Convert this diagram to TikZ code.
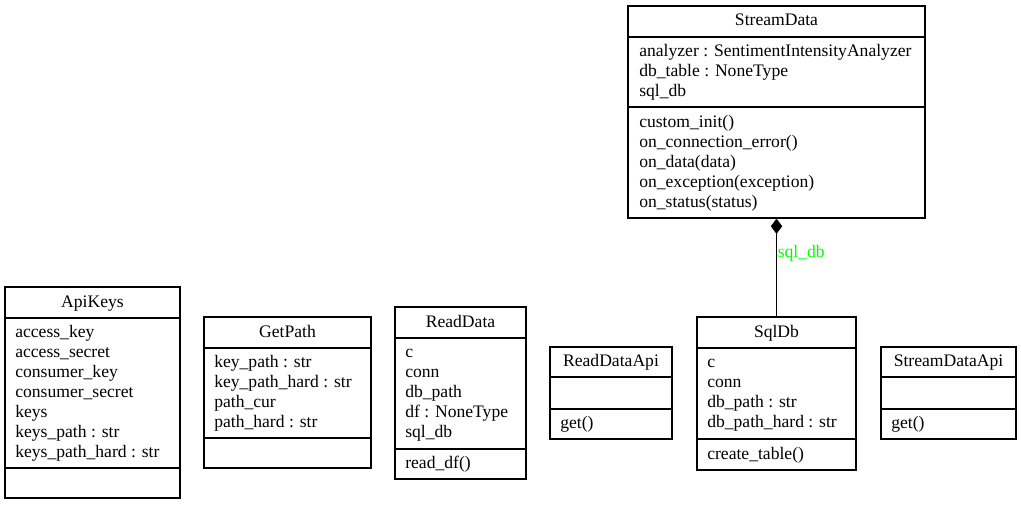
\documentclass[tikz,border=0pt]{standalone}
\usepackage{fontspec}
\setmainfont{Liberation Serif}
\usetikzlibrary{fit,arrows.meta}
\definecolor{lblgreen}{RGB}{0,255,0}
\tikzset{
  umlbox/.style={draw=black, line width=0.9pt, inner sep=0pt, fill=none},
  divider/.style={draw=black, line width=0.9pt},
  ttl/.style={inner sep=0pt, anchor=base, font=\fontsize{13.2pt}{15pt}\selectfont},
  txt/.style={inner sep=0pt, anchor=base west, font=\fontsize{13.2pt}{15pt}\selectfont},
  assoc/.style={draw=black, line width=0.9pt},
  lbl/.style={inner sep=0pt, anchor=base west, text=lblgreen, font=\fontsize{13.2pt}{15pt}\selectfont}
}
\begin{document}
\begin{tikzpicture}[x=0.75pt,y=-0.75pt]
\useasboundingbox (0,0) rectangle (1021,505);
\fill[white] (0,0) rectangle (1021,505);

% ---------- StreamData ----------
\node[umlbox, fit={(628,6) (925,218)}] (sd) {};
\draw[divider] (628,37) -- (925,37);
\draw[divider] (628,107) -- (925,107);
\node[ttl] (sd-t) at (776.5,26) {StreamData};
\node[txt] (sd-a1) at (639,57) {analyzer : SentimentIntensityAnalyzer};
\node[txt] (sd-a2) at (639,77) {db\_table : NoneType};
\node[txt] (sd-a3) at (639,97) {sql\_db};
\node[txt] (sd-m1) at (639,128) {custom\_init()};
\node[txt] (sd-m2) at (639,148) {on\_connection\_error()};
\node[txt] (sd-m3) at (639,168) {on\_data(data)};
\node[txt] (sd-m4) at (639,188) {on\_exception(exception)};
\node[txt] (sd-m5) at (639,208) {on\_status(status)};

% ---------- ApiKeys ----------
\node[umlbox, fit={(5,287) (180,498)}] (ak) {};
\draw[divider] (5,318) -- (180,318);
\draw[divider] (5,468) -- (180,468);
\node[ttl] (ak-t) at (92.5,308) {ApiKeys};
\node[txt] (ak-a1) at (15,338) {access\_key};
\node[txt] (ak-a2) at (15,358) {access\_secret};
\node[txt] (ak-a3) at (15,378) {consumer\_key};
\node[txt] (ak-a4) at (15,398) {consumer\_secret};
\node[txt] (ak-a5) at (15,418) {keys};
\node[txt] (ak-a6) at (15,438) {keys\_path : str};
\node[txt] (ak-a7) at (15,458) {keys\_path\_hard : str};

% ---------- GetPath ----------
\node[umlbox, fit={(204,317) (371,468)}] (gp) {};
\draw[divider] (204,348) -- (371,348);
\draw[divider] (204,438) -- (371,438);
\node[ttl] (gp-t) at (287.5,338) {GetPath};
\node[txt] (gp-a1) at (214,368) {key\_path : str};
\node[txt] (gp-a2) at (214,388) {key\_path\_hard : str};
\node[txt] (gp-a3) at (214,408) {path\_cur};
\node[txt] (gp-a4) at (214,428) {path\_hard : str};

% ---------- ReadData ----------
\node[umlbox, fit={(395,307) (526,479)}] (rd) {};
\draw[divider] (395,338) -- (526,338);
\draw[divider] (395,449) -- (526,449);
\node[ttl] (rd-t) at (460.5,328) {ReadData};
\node[txt] (rd-a1) at (405,358) {c};
\node[txt] (rd-a2) at (405,378) {conn};
\node[txt] (rd-a3) at (405,398) {db\_path};
\node[txt] (rd-a4) at (405,418) {df : NoneType};
\node[txt] (rd-a5) at (405,438) {sql\_db};
\node[txt] (rd-m1) at (405,469) {read\_df()};

% ---------- ReadDataApi ----------
\node[umlbox, fit={(550,347) (672,439)}] (rda) {};
\draw[divider] (550,377) -- (672,377);
\draw[divider] (550,409) -- (672,409);
\node[ttl] (rda-t) at (611,367) {ReadDataApi};
\node[txt] (rda-m1) at (560,429) {get()};

% ---------- SqlDb ----------
\node[umlbox, fit={(697,317) (856,470)}] (sq) {};
\draw[divider] (697,348) -- (856,348);
\draw[divider] (697,439) -- (856,439);
\node[ttl] (sq-t) at (776.5,338) {SqlDb};
\node[txt] (sq-a1) at (707,368) {c};
\node[txt] (sq-a2) at (707,388) {conn};
\node[txt] (sq-a3) at (707,408) {db\_path : str};
\node[txt] (sq-a4) at (707,428) {db\_path\_hard : str};
\node[txt] (sq-m1) at (707,460) {create\_table()};

% ---------- StreamDataApi ----------
\node[umlbox, fit={(881,347) (1016,439)}] (sda) {};
\draw[divider] (881,377) -- (1016,377);
\draw[divider] (881,409) -- (1016,409);
\node[ttl] (sda-t) at (948.5,367) {StreamDataApi};
\node[txt] (sda-m1) at (891,429) {get()};

% ---------- composition ----------
\draw[assoc, {Diamond[length=11.5pt,width=8.5pt]}-] (sd.south) -- (sq.north);
\node[lbl] (lbl-sqldb) at (777.5,258) {sql\_db};
\end{tikzpicture}
\end{document}
